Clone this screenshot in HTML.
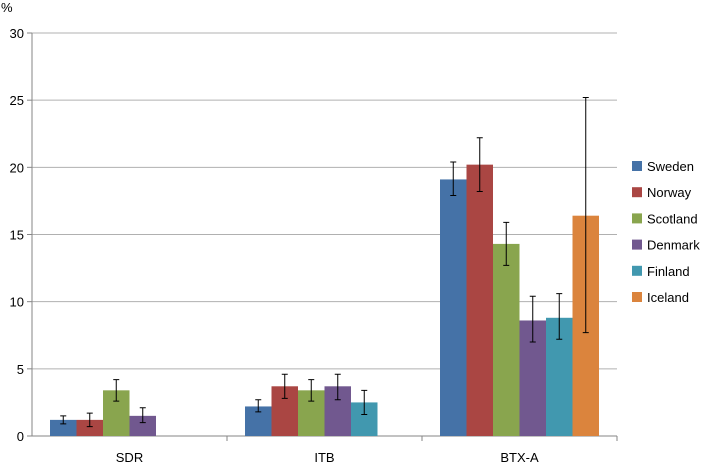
<!DOCTYPE html>
<html><head><meta charset="utf-8"><style>
body{margin:0;background:#fff;font-family:"Liberation Sans",sans-serif;}
svg text{font-family:"Liberation Sans",sans-serif;font-size:13px;fill:#000;}
</style></head><body>
<svg id="chart" width="708" height="467">
<text x="1" y="12">%</text>
<g id="grid"></g><g id="bars"></g><g id="axes"></g><g id="legend"></g>
</svg>
<script>
const categories=["SDR","ITB","BTX-A"];
const seriesNames=["Sweden","Norway","Scotland","Denmark","Finland","Iceland"];
const colors=["#4572A7","#AA4643","#89A54E","#71588F","#4198AF","#DB843D"];
const valSweden=[1.2,2.2,19.1];
const valNorway=[1.2,3.7,20.2];
const valScotland=[3.4,3.4,14.3];
const valDenmark=[1.5,3.7,8.6];
const valFinland=[null,2.5,8.8];
const valIceland=[null,null,16.4];
const loSweden=[0.9,1.8,17.9],hiSweden=[1.5,2.7,20.4];
const loNorway=[0.7,2.8,18.2],hiNorway=[1.7,4.6,22.2];
const loScotland=[2.6,2.6,12.7],hiScotland=[4.2,4.2,15.9];
const loDenmark=[1.0,2.7,7.0],hiDenmark=[2.1,4.6,10.4];
const loFinland=[null,1.6,7.2],hiFinland=[null,3.4,10.6];
const loIceland=[null,null,7.7],hiIceland=[null,null,25.2];
const yTicks=[0,5,10,15,20,25,30];
const vals=[valSweden,valNorway,valScotland,valDenmark,valFinland,valIceland];
const los=[loSweden,loNorway,loScotland,loDenmark,loFinland,loIceland];
const his=[hiSweden,hiNorway,hiScotland,hiDenmark,hiFinland,hiIceland];
const NS="http://www.w3.org/2000/svg";
const L=32,R=617,T=33,B=436;
const y=v=>B-(v/30)*(B-T);
const catW=(R-L)/categories.length,gap=18,bw=(catW-2*gap)/6;
function mk(tag,at,par){const e=document.createElementNS(NS,tag);for(const k in at)e.setAttribute(k,at[k]);document.getElementById(par).appendChild(e);return e;}
yTicks.forEach(t=>{
 const g=mk("line",{x1:L,x2:R,y1:y(t),y2:y(t),stroke:t===0?"#868686":"#B0B0B0","stroke-width":1},"grid");
 
 
 const tx=mk("text",{x:L-8,y:y(t)+5,"text-anchor":"end"},"axes");tx.textContent=t;
 
 
 const tk=mk("line",{x1:L-5,x2:L,y1:y(t),y2:y(t),stroke:"#868686"},"axes");
 
 
});
const ya=mk("line",{x1:L,x2:L,y1:T,y2:B,stroke:"#868686"},"axes");


categories.forEach((c,i)=>{
 const cx=L+catW*(i+0.5);
 const t=mk("text",{x:cx,y:B+26,"text-anchor":"middle"},"axes");t.textContent=c;
 
 
 const tk=mk("line",{x1:L+catW*(i+1),x2:L+catW*(i+1),y1:B,y2:B+5,stroke:"#868686"},"axes");
 
 
 vals.forEach((s,j)=>{
  const v=s[i];if(v==null)return;
  const x0=L+catW*i+gap+bw*j;
  const r=mk("rect",{x:x0,y:y(v),width:bw,height:B-y(v),fill:colors[j]},"bars");
  
  
  const xm=x0+bw/2,lo=los[j][i],hi=his[j][i];
  const e=mk("path",{d:`M${xm},${y(lo)}V${y(hi)}M${xm-3},${y(lo)}H${xm+3}M${xm-3},${y(hi)}H${xm+3}`,stroke:"#000","stroke-width":1,fill:"none"},"bars");
  
  
 });
});
seriesNames.forEach((n,j)=>{
 const yy=166+26.2*j;
 const r=mk("rect",{x:632,y:yy-5,width:10,height:10,fill:colors[j]},"legend");
 
 
 const t=mk("text",{x:647,y:yy+5},"legend");t.textContent=n;
 
 
});
</script>
</body></html>
